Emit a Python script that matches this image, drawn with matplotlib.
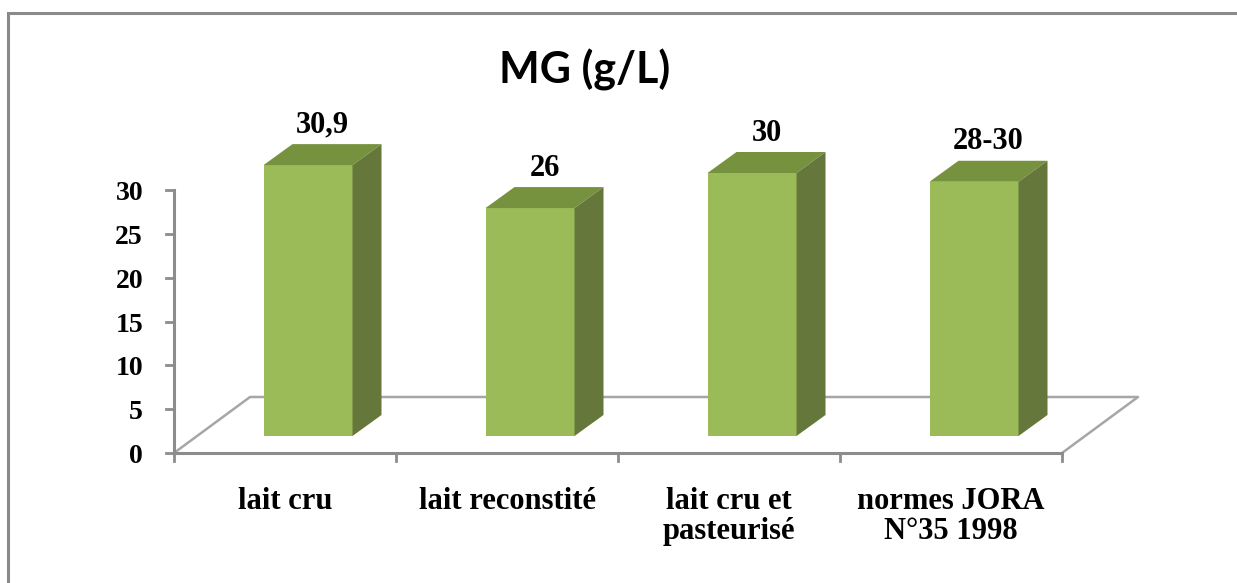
import matplotlib
matplotlib.use("Agg")
import matplotlib.pyplot as plt
from matplotlib.patches import Polygon, Rectangle

# milk fat content per sample
categories = ["lait cru", "lait reconstité", "lait cru et\npasteurisé", "normes JORA\nN°35 1998"]
values = [30.9, 26, 30, 29]
value_labels = ["30,9", "26", "30", "28-30"]
yticks = [0, 5, 10, 15, 20, 25, 30]

# pixel scale of the plot area: one category = 222 px, 30 units = 263 px
PX_X = 222.0
PX_Y = 263.0 / 30
W, H = 1237, 583
X0, Y0 = 174, 453  # origin in pixels (from top-left)

fig = plt.figure(figsize=(W / 100, H / 100), dpi=100)
ax = fig.add_axes([0, 0, 1, 1])
ax.set_xlim(-X0 / PX_X, (W - X0) / PX_X)
ax.set_ylim(-(H - Y0) / PX_Y, Y0 / PX_Y)
ax.axis("off")

serif = "Liberation Serif"
axis_col = "#8c8c8c"
floor_col = "#a6a6a6"

# chart border
fig.patches.append(Rectangle((8 / W, -0.1), 1.2, 1 - 13 / H + 0.1, transform=fig.transFigure,
                             fill=False, edgecolor="#8a8a8a", linewidth=2.2))

# floor of the 3d plot
n = len(categories)
fdx, fdy = 76 / PX_X, 56 / PX_Y
ax.plot([0, fdx, n + fdx, n], [0, fdy, fdy, 0], color=floor_col, lw=1.8, zorder=1)
ax.plot([0, n], [0, 0], color=axis_col, lw=2.2, zorder=2)

# value axis
ax.plot([0, 0], [0, 30], color=axis_col, lw=2.2, zorder=2)
tick_x = 8 / PX_X
tick_y = 8 / PX_Y
for t in yticks:
    ax.plot([-tick_x, 0], [t, t], color=axis_col, lw=2, zorder=2)
    ax.text(-31 / PX_X, t - 0.4, str(t), ha="right", va="center", fontsize=20,
            fontweight="bold", family=serif)
for i in range(n + 1):
    ax.plot([i, i], [0, -tick_y], color=axis_col, lw=2, zorder=2)

# bars
bw = 89 / PX_X
bdx, bdy = 29 / PX_X, 21 / PX_Y
offx, offy = 23 / PX_X, 17 / PX_Y
front_col, top_col, side_col = "#9bbb59", "#77923f", "#65773a"
for i, (v, lab) in enumerate(zip(values, value_labels)):
    x0 = i + 0.5 - bw / 2 + offx
    x1 = x0 + bw
    y0 = offy
    y1 = offy + v
    ax.add_patch(Polygon([(x0, y0), (x1, y0), (x1, y1), (x0, y1)], closed=True,
                         facecolor=front_col, edgecolor="none", zorder=5))
    ax.add_patch(Polygon([(x0, y1), (x1, y1), (x1 + bdx, y1 + bdy), (x0 + bdx, y1 + bdy)],
                         closed=True, facecolor=top_col, edgecolor="none", zorder=5))
    ax.add_patch(Polygon([(x1, y0), (x1 + bdx, y0 + bdy), (x1 + bdx, y1 + bdy), (x1, y1)],
                         closed=True, facecolor=side_col, edgecolor="none", zorder=5))
    ax.text(x0 + bw / 2 + bdx / 2, y1 + bdy + 0.5, lab, ha="center", va="bottom",
            fontsize=22, fontweight="bold", family=serif)
    ax.text(i + 0.5, -3.9, categories[i], ha="center", va="top", fontsize=22,
            fontweight="bold", family=serif, linespacing=1.05)

# title
fig.text(585 / W, 1 - 70 / H, "MG (g/L)", ha="center", va="center", fontsize=31,
         fontweight="bold", family="Lato")

fig.savefig("out.png", dpi=100)
